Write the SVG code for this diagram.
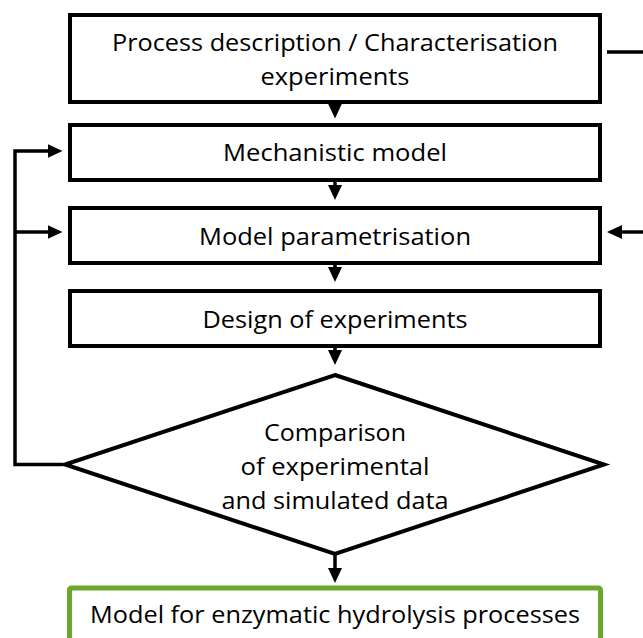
<svg xmlns="http://www.w3.org/2000/svg" width="643" height="638" viewBox="0 0 643 638">
<style>
  .box { fill: #ffffff; stroke: #000000; stroke-width: 4; }
  .green { fill: #ffffff; stroke: #6BA72F; stroke-width: 5; }
  .lbl { font-family: "Open Sans", "Liberation Sans", sans-serif; font-size: 23px; fill: #000000; text-anchor: middle; }
  .conn { fill: none; stroke: #000000; stroke-width: 3.5; }
</style>
<defs>
  <marker id="arrow" viewBox="0 0 15 14" refX="10" refY="7" markerWidth="15" markerHeight="14" markerUnits="userSpaceOnUse" orient="auto">
    <path d="M0,0 L15,7 L0,14 Z" fill="#000000"/>
  </marker>
</defs>
<rect x="0" y="0" width="643" height="638" fill="#ffffff"/>

<g id="node-process">
  <rect class="box" x="70" y="15" width="530" height="87"/>
  <text class="lbl" x="335" y="50.5" textLength="446" lengthAdjust="spacingAndGlyphs">Process description / Characterisation</text>
  <text class="lbl" x="335" y="85" textLength="149" lengthAdjust="spacingAndGlyphs">experiments</text>
</g>
<g id="node-mechanistic">
  <rect class="box" x="70" y="125" width="530" height="55"/>
  <text class="lbl" x="335" y="161" textLength="224" lengthAdjust="spacingAndGlyphs">Mechanistic model</text>
</g>
<g id="node-parametrisation">
  <rect class="box" x="70" y="208" width="530" height="55"/>
  <text class="lbl" x="335" y="245" textLength="272" lengthAdjust="spacingAndGlyphs">Model parametrisation</text>
</g>
<g id="node-design">
  <rect class="box" x="70" y="291" width="530" height="55"/>
  <text class="lbl" x="335" y="328" textLength="265" lengthAdjust="spacingAndGlyphs">Design of experiments</text>
</g>
<g id="node-comparison">
  <polygon class="box" points="335,375 604,464.5 335,554 65,464.5"/>
  <text class="lbl" x="335" y="441" textLength="142" lengthAdjust="spacingAndGlyphs">Comparison</text>
  <text class="lbl" x="335" y="475" textLength="189" lengthAdjust="spacingAndGlyphs">of experimental</text>
  <text class="lbl" x="335" y="509" textLength="227" lengthAdjust="spacingAndGlyphs">and simulated data</text>
</g>
<g id="node-model">
  <rect class="green" x="69.5" y="588" width="531" height="80" rx="2"/>
  <text class="lbl" x="335" y="623" textLength="490" lengthAdjust="spacingAndGlyphs">Model for enzymatic hydrolysis processes</text>
</g>

<g id="connectors">
  <path class="conn" d="M335,102 L335,113.5" marker-end="url(#arrow)"/>
  <path class="conn" d="M335,180 L335,195" marker-end="url(#arrow)"/>
  <path class="conn" d="M335,263 L335,277" marker-end="url(#arrow)"/>
  <path class="conn" d="M335,346 L335,360" marker-end="url(#arrow)"/>
  <path class="conn" d="M335,554 L335,578" marker-end="url(#arrow)"/>
  <path class="conn" d="M63,464.5 L15,464.5 L15,151 L57.5,151" marker-end="url(#arrow)"/>
  <path class="conn" d="M15,232 L57.5,232" marker-end="url(#arrow)"/>
  <path class="conn" d="M607,52 L660,52 L660,232 L612,232" marker-end="url(#arrow)"/>
</g>
</svg>
